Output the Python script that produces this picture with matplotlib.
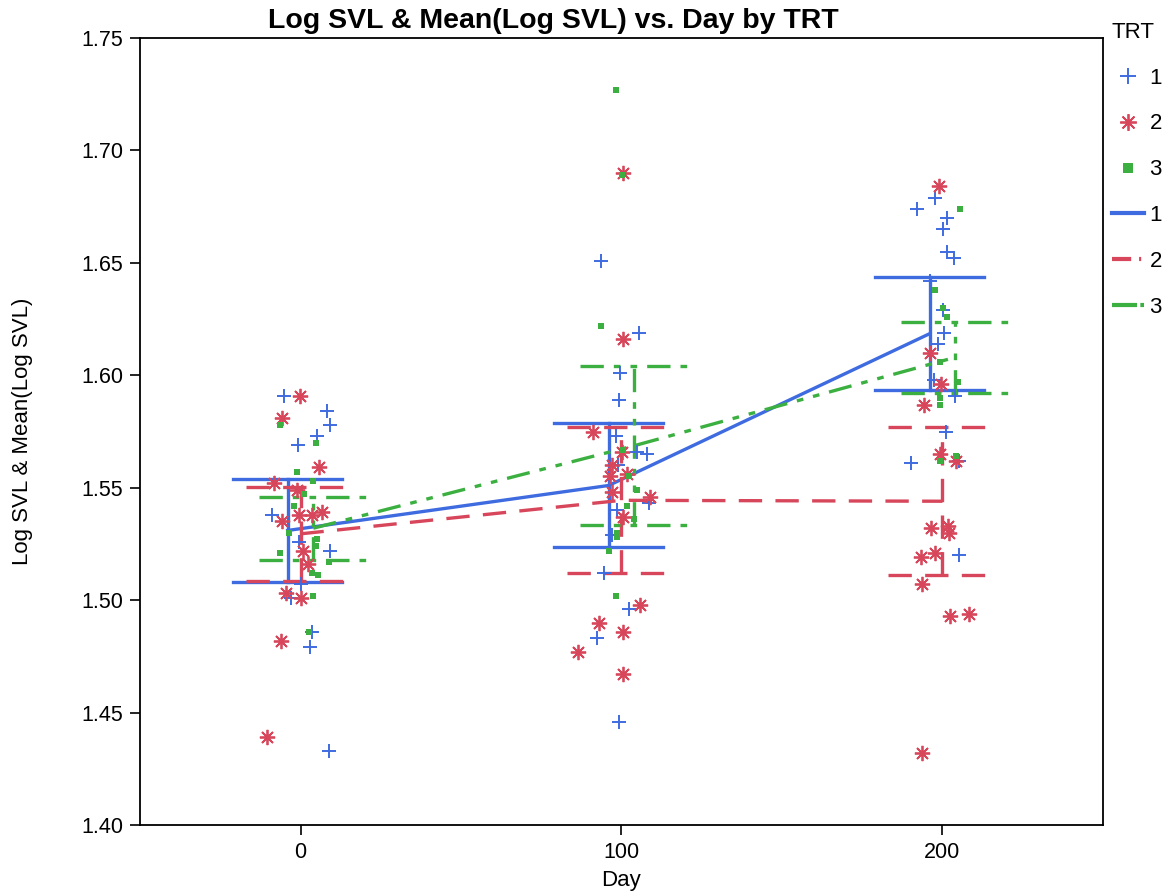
import matplotlib
matplotlib.use('Agg')
import matplotlib.pyplot as plt
from matplotlib.lines import Line2D

plt.rcParams['font.family'] = ['Liberation Sans', 'DejaVu Sans']

# raw observations (day is jittered so the points don't sit on top of each other)
x1 = [-5.0, 8.3, 9.3, 5.2, -0.7, -8.8, -0.5, 9.3, 0.0, -3.1, 3.6, 2.8, 8.8,
      93.5, 105.4, 99.5, 99.3, 98.3, 104.7, 108.0, 99.0, 108.6, 98.7, 97.0, 94.6, 102.4, 92.5, 99.3,
      197.8, 192.0, 201.3, 200.3, 201.3, 203.7, 196.0, 200.1, 200.6, 198.5, 197.5, 204.0, 201.0,
      190.3, 205.3, 205.0]
y1 = [1.591, 1.584, 1.578, 1.573, 1.569, 1.538, 1.526, 1.522, 1.507, 1.501, 1.486, 1.479, 1.433,
      1.651, 1.619, 1.601, 1.589, 1.573, 1.566, 1.565, 1.560, 1.543, 1.540, 1.529, 1.512, 1.496, 1.483, 1.446,
      1.679, 1.674, 1.670, 1.665, 1.655, 1.652, 1.642, 1.629, 1.619, 1.614, 1.598, 1.591, 1.575,
      1.561, 1.562, 1.520]

x2 = [-0.3, -5.7, 5.7, -8.3, -1.2, -0.5, 3.6, 6.7, -5.9, 0.8, 2.3, -4.4, 0.2, -6.2, -10.4,
      100.4, 100.6, 91.2, 100.1, 97.0, 96.5, 101.6, 97.0, 108.9, 100.6, 105.8, 93.0, 100.6, 86.3, 100.6,
      198.8, 196.0, 199.6, 194.4, 199.1, 204.3, 201.6, 196.5, 202.0, 197.8, 193.4, 193.7, 202.5,
      208.4, 193.7]
y2 = [1.591, 1.581, 1.559, 1.552, 1.549, 1.538, 1.538, 1.539, 1.535, 1.522, 1.516, 1.503, 1.501, 1.482, 1.439,
      1.690, 1.616, 1.575, 1.566, 1.560, 1.555, 1.556, 1.548, 1.546, 1.537, 1.498, 1.490, 1.486, 1.477, 1.467,
      1.684, 1.610, 1.596, 1.587, 1.565, 1.562, 1.533, 1.532, 1.530, 1.521, 1.519, 1.507, 1.493,
      1.494, 1.432]

x3 = [-6.5, 4.7, -1.2, 4.0, 1.2, -1.9, -3.6, 5.2, 4.7, -6.5, 9.0, 3.6, 5.4, 4.0, 2.6,
      98.3, 100.1, 93.6, 100.6, 102.4, 104.7, 101.8, 104.0, 98.5, 98.7, 96.1, 98.3,
      205.6, 197.8, 200.3, 201.5, 199.1, 204.8, 199.1, 199.1, 204.3, 199.1]
y3 = [1.578, 1.570, 1.557, 1.553, 1.547, 1.542, 1.530, 1.527, 1.524, 1.521, 1.517, 1.512, 1.511, 1.502, 1.486,
      1.727, 1.689, 1.622, 1.567, 1.555, 1.549, 1.542, 1.536, 1.530, 1.528, 1.522, 1.502,
      1.674, 1.638, 1.630, 1.626, 1.606, 1.597, 1.590, 1.587, 1.564, 1.562]

# group means with lower / upper error limits
days = [0, 100, 200]
mean1 = [1.531, 1.551, 1.6185]
lo1 = [1.508, 1.5237, 1.5935]
hi1 = [1.554, 1.5789, 1.6439]
mean2 = [1.5295, 1.5444, 1.5440]
lo2 = [1.5085, 1.5119, 1.5110]
hi2 = [1.5505, 1.5769, 1.5769]
mean3 = [1.532, 1.5687, 1.608]
lo3 = [1.5179, 1.5333, 1.5923]
hi3 = [1.546, 1.6041, 1.6237]

blue = '#3f6be0'
red = '#d7465a'
green = '#3bb040'

fig = plt.figure(figsize=(11.68, 8.96), dpi=100)
ax = fig.add_axes([0.1199, 0.0792, 0.8244, 0.8784])

groups = [
    (mean1, lo1, hi1, -4, blue, '-'),
    (mean2, lo2, hi2, 0, red, (0, (7, 4))),
    (mean3, lo3, hi3, 4, green, (0, (7, 3, 2, 3, 2, 3))),
]
cap = 17
for m, lo, hi, off, c, ls in groups:
    xs = [d + off for d in days]
    ax.plot(xs, m, color=c, lw=2.4, ls=ls, zorder=2)
    for xx, l, h in zip(xs, lo, hi):
        ax.plot([xx, xx], [l, h], color=c, lw=2.4, ls=ls, zorder=2)
        ax.plot([xx - cap, xx + cap], [l, l], color=c, lw=2.4, ls=ls, zorder=2)
        ax.plot([xx - cap, xx + cap], [h, h], color=c, lw=2.4, ls=ls, zorder=2)

ax.plot(x1, y1, ls='', marker='+', ms=10, mew=1.4, color=blue, zorder=3)
ax.plot(x2, y2, ls='', marker=(8, 2, 0), ms=11, mew=1.3, color=red, zorder=3)
ax.plot(x3, y3, ls='', marker='s', ms=4.5, mew=0, color=green, zorder=3)

ax.set_xlim(-50, 250)
ax.set_ylim(1.40, 1.75)
ax.set_xticks(days)
ax.set_yticks([1.40, 1.45, 1.50, 1.55, 1.60, 1.65, 1.70, 1.75])
ax.set_yticklabels(['%.2f' % v for v in ax.get_yticks()])
ax.tick_params(labelsize=15.5, length=7, width=1.2, direction='out', pad=5)
for s in ax.spines.values():
    s.set_linewidth(1.3)
ax.set_xlabel('Day', fontsize=16)
ax.xaxis.set_label_coords(0.5, -0.07)
ax.xaxis.label.set_va('center')
ax.set_ylabel('Log SVL & Mean(Log SVL)', fontsize=16)
ax.yaxis.set_label_coords(-0.1225, 0.5)
ax.yaxis.label.set_va('center')

fig.text(0.474, 0.977, 'Log SVL & Mean(Log SVL) vs. Day by TRT', ha='center', va='center',
         fontsize=20.5, fontweight='bold')

handles = [
    Line2D([], [], ls='', marker='+', ms=11, mew=1.4, color=blue),
    Line2D([], [], ls='', marker=(8, 2, 0), ms=12, mew=1.3, color=red),
    Line2D([], [], ls='', marker='s', ms=6.5, mew=0, color=green),
    Line2D([], [], color=blue, lw=3),
    Line2D([], [], color=red, lw=3, ls=(0, (4.6, 1.9, 0.5, 5))),
    Line2D([], [], color=green, lw=3, ls=(0, (6, 0.8, 1, 5))),
]
leg = ax.legend(handles, ['1', '2', '3', '1', '2', '3'], title='TRT', loc='upper left',
                bbox_to_anchor=(1.0, 1.032), frameon=False, fontsize=16, title_fontsize=16,
                handlelength=1.45, labelspacing=1.12, handletextpad=0.25, borderaxespad=0.0)
leg._legend_box.align = 'left'

fig.savefig('out.png', dpi=100)
